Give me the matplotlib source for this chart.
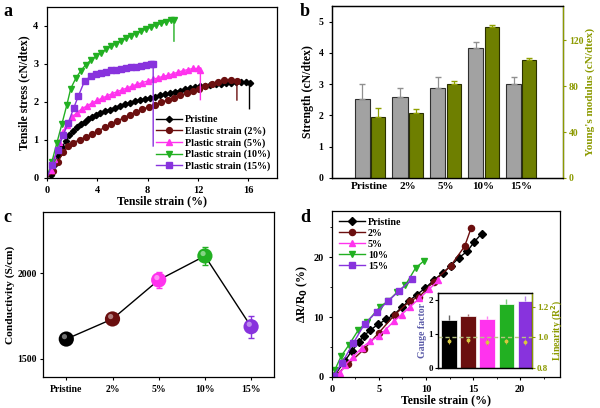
import numpy as np
import matplotlib
matplotlib.use("Agg")
import matplotlib.pyplot as plt

plt.rcParams['font.family'] = ['Liberation Serif', 'DejaVu Serif']
plt.rcParams['font.weight'] = 'bold'
plt.rcParams['axes.labelweight'] = 'bold'
plt.rcParams['axes.linewidth'] = 0.9
plt.rcParams['xtick.major.size'] = 2.5
plt.rcParams['ytick.major.size'] = 2.5
plt.rcParams['xtick.minor.size'] = 1.5
plt.rcParams['ytick.minor.size'] = 1.5

# ---- panel a: stress-strain curves ----
strain_pristine = [0, 0.3, 0.6, 0.9, 1.2, 1.5, 1.8, 2.1, 2.4, 2.7, 3.0, 3.3, 3.6, 3.9, 4.2, 4.6,
                   5.0, 5.4, 5.8, 6.2, 6.6, 7.0, 7.4, 7.8, 8.2, 8.6, 9.0, 9.4, 9.8, 10.2, 10.6,
                   11.0, 11.4, 11.8, 12.2, 12.6, 13.0, 13.4, 13.8, 14.2, 14.6, 15.0, 15.4, 15.8, 16.1, 16.1]
stress_pristine = [0, 0.08, 0.35, 0.6, 0.8, 0.97, 1.12, 1.24, 1.33, 1.41, 1.48, 1.54, 1.6, 1.65, 1.7, 1.75,
                   1.8, 1.85, 1.9, 1.94, 1.98, 2.02, 2.05, 2.08, 2.11, 2.14, 2.17, 2.2, 2.24, 2.27, 2.3,
                   2.33, 2.36, 2.38, 2.41, 2.43, 2.45, 2.47, 2.48, 2.5, 2.51, 2.52, 2.52, 2.52, 2.5, 1.82]
strain_2 = [0, 0.5, 0.9, 1.3, 1.7, 2.1, 2.6, 3.1, 3.6, 4.1, 4.6, 5.1, 5.6, 6.1, 6.6, 7.1, 7.6, 8.1,
            8.6, 9.1, 9.6, 10.1, 10.6, 11.1, 11.6, 12.1, 12.6, 13.1, 13.6, 14.1, 14.6, 15.1, 15.1]
stress_2 = [0, 0.17, 0.43, 0.67, 0.83, 0.93, 1.0, 1.08, 1.16, 1.24, 1.33, 1.41, 1.5, 1.58, 1.66, 1.74,
            1.81, 1.87, 1.93, 1.99, 2.05, 2.11, 2.17, 2.23, 2.29, 2.35, 2.41, 2.47, 2.53, 2.57, 2.58,
            2.55, 2.05]
strain_5 = [0, 0.3, 0.6, 1.0, 1.3, 1.6, 2.0, 2.4, 2.8, 3.2, 3.6, 4.0, 4.4, 4.8, 5.2, 5.6, 6.0, 6.4,
            6.8, 7.2, 7.6, 8.0, 8.4, 8.8, 9.2, 9.6, 10.0, 10.4, 10.8, 11.2, 11.6, 12.0, 12.2, 12.2]
stress_5 = [0, 0.2, 0.5, 0.95, 1.2, 1.4, 1.6, 1.72, 1.82, 1.9, 1.97, 2.04, 2.1, 2.16, 2.22, 2.27, 2.32,
            2.37, 2.42, 2.47, 2.51, 2.55, 2.59, 2.63, 2.67, 2.7, 2.74, 2.78, 2.82, 2.85, 2.88, 2.88,
            2.85, 2.06]
strain_10 = [0, 0.4, 0.8, 1.2, 1.6, 1.9, 2.3, 2.7, 3.1, 3.5, 3.9, 4.3, 4.7, 5.1, 5.5, 5.9, 6.3, 6.7,
             7.1, 7.5, 7.9, 8.3, 8.7, 9.1, 9.5, 9.9, 10.1, 10.1]
stress_10 = [0, 0.42, 0.92, 1.42, 1.93, 2.35, 2.62, 2.82, 2.98, 3.1, 3.2, 3.3, 3.38, 3.46, 3.53, 3.6,
             3.67, 3.74, 3.8, 3.86, 3.92, 3.97, 4.02, 4.07, 4.11, 4.15, 4.15, 3.6]
strain_15 = [0, 0.4, 0.85, 1.3, 1.7, 2.15, 2.5, 3.0, 3.5, 3.9, 4.3, 4.7, 5.1, 5.5, 5.9, 6.3, 6.7, 7.1,
             7.5, 7.9, 8.3, 8.45, 8.45]
stress_15 = [0, 0.33, 0.73, 1.12, 1.45, 1.85, 2.15, 2.55, 2.68, 2.73, 2.77, 2.8, 2.83, 2.85, 2.87,
             2.89, 2.91, 2.93, 2.95, 2.97, 2.99, 3.0, 0.84]

# ---- panel b: strength and modulus ----
samples = ['Pristine', '2%', '5%', '10%', '15%']
strength = [2.52, 2.58, 2.88, 4.15, 3.0]
strength_err = [0.5, 0.3, 0.35, 0.2, 0.22]
modulus = [53, 56.5, 82, 131.5, 103]
modulus_err = [8, 4, 3, 2, 2]

# ---- panel c: conductivity ----
conductivity = [1616, 1733, 1960, 2100, 1688]
conductivity_err = [0, 15, 44, 55, 63]

# ---- panel d: resistance change ----
d_pristine_x = [0.35, 1.4, 2.1, 2.9, 3.4, 4.1, 4.9, 5.8, 6.6, 7.4, 8.2, 9.0, 9.9, 10.8, 11.8, 12.6,
                13.5, 14.4, 15.1, 15.9]
d_pristine_y = [0.4, 2.7, 4.3, 5.8, 6.9, 7.8, 8.8, 9.6, 10.4, 11.6, 12.7, 13.7, 14.8, 16.1, 17.4,
                18.5, 19.9, 21.0, 22.5, 23.9]
d_2_x = [0.35, 1.7, 3.4, 5.0, 6.7, 8.3, 9.3, 10.8, 12.6, 14.1, 14.8]
d_2_y = [0.2, 2.1, 4.6, 7.4, 10.4, 12.7, 13.4, 15.9, 18.5, 21.8, 24.9]
d_5_x = [0.9, 1.4, 2.3, 3.2, 4.1, 5.0, 5.7, 6.6, 7.4, 8.3, 9.3, 10.3, 11.3]
d_5_y = [0.6, 2.0, 3.4, 4.9, 6.0, 6.8, 7.9, 9.3, 10.4, 11.7, 13.1, 14.6, 16.1]
d_10_x = [0.3, 1.0, 1.8, 2.8, 3.7, 5.1, 6.0, 6.9, 7.8, 8.9, 9.8]
d_10_y = [1.1, 3.5, 5.3, 7.8, 9.1, 11.7, 12.7, 14.1, 15.3, 18.2, 19.4]
d_15_x = [0.2, 1.1, 2.3, 3.5, 4.8, 6.0, 7.1, 8.5]
d_15_y = [0.2, 2.4, 5.7, 8.9, 10.9, 12.7, 14.3, 16.3]

# inset
gauge = [1.4, 1.53, 1.43, 1.88, 1.95]
gauge_err = [0.15, 0.05, 0.1, 0.15, 0.15]
linearity = [0.975, 0.98, 0.97, 0.975, 0.97]
linearity_err = [0.02, 0.015, 0.02, 0.015, 0.02]

colors = ['black', '#6b0f0f', '#ff33ee', '#22b022', '#8833dd']
olive = '#8c9a00'

fig = plt.figure(figsize=(6, 4.08), dpi=100)

# ===== a =====
ax_a = fig.add_axes([0.078, 0.564, 0.384, 0.419])
curves = [(strain_pristine, stress_pristine, 'D', 'Pristine', 3.2),
          (strain_2, stress_2, 'o', 'Elastic strain (2%)', 4.2),
          (strain_5, stress_5, '^', 'Plastic strain (5%)', 4.2),
          (strain_10, stress_10, 'v', 'Plastic strain (10%)', 4.2),
          (strain_15, stress_15, 's', 'Plastic strain (15%)', 3.8)]
for (sx, sy, mk, lab, ms), c in zip(curves, colors):
    ax_a.plot(sx, sy, color=c, lw=1.0, marker=mk, ms=ms, markevery=slice(1, len(sx) - 1), label=lab)
ax_a.set_xlim(0, 18.3)
ax_a.set_ylim(0, 4.5)
ax_a.set_xticks([0, 4, 8, 12, 16])
ax_a.set_yticks([0, 1, 2, 3, 4])
ax_a.tick_params(labelsize=7.5)
ax_a.set_xlabel('Tensile strain (%)', fontsize=8.5, labelpad=0)
ax_a.set_ylabel('Tensile stress (cN/dtex)', fontsize=8.5, labelpad=2)
ax_a.legend(loc='lower right', bbox_to_anchor=(1.0, 0.0), frameon=False, fontsize=7.2,
            handlelength=2.6, labelspacing=0.2, handletextpad=0.3, borderaxespad=0.3)
fig.text(0.005, 0.96, 'a', fontsize=13, fontweight='bold')

# ===== b =====
ax_b = fig.add_axes([0.553, 0.564, 0.385, 0.421])
xb = np.arange(len(samples))
ax_b.bar(xb - 0.2, strength, width=0.4, color='#a2a2a2', edgecolor='#303030', lw=0.8,
         yerr=[np.zeros(5), strength_err], error_kw=dict(ecolor='#909090', capsize=2, elinewidth=0.9))
ax_b.set_ylim(0, 5.5)
ax_b.set_xlim(-1.0, 5.1)
ax_b.set_yticks([0, 1, 2, 3, 4, 5])
ax_b.set_xticks(xb)
ax_b.set_xticklabels(samples, fontsize=8)
ax_b.tick_params(axis='x', length=0, pad=3)
ax_b.tick_params(axis='y', labelsize=7)
ax_b.set_ylabel('Strength (cN/dtex)', fontsize=8.5, labelpad=3)
ax_b2 = ax_b.twinx()
ax_b2.bar(xb + 0.22, modulus, width=0.37, color='#6e7f00', edgecolor='#2a3000', lw=0.8,
          yerr=[np.zeros(5), modulus_err], error_kw=dict(ecolor='#8fa000', capsize=2, elinewidth=0.9))
ax_b2.set_ylim(0, 150)
ax_b2.set_yticks([0, 40, 80, 120])
ax_b2.tick_params(axis='y', labelsize=7, colors=olive, pad=2)
ax_b2.spines['right'].set_color(olive)
ax_b2.set_ylabel("Young's modulus (cN/dtex)", fontsize=8, color=olive, labelpad=1)
fig.text(0.5, 0.96, 'b', fontsize=13, fontweight='bold')

# ===== c =====
ax_c = fig.add_axes([0.072, 0.076, 0.385, 0.404])
xc = np.arange(len(samples))
ax_c.plot(xc, conductivity, color='black', lw=1.0, zorder=1)
for i in range(len(samples)):
    ax_c.errorbar(xc[i], conductivity[i], yerr=conductivity_err[i], fmt='none',
                  ecolor=colors[i], capsize=2, elinewidth=1.0, zorder=2)
ax_c.scatter(xc, conductivity, s=120, c=colors, edgecolors='none', zorder=3)
ax_c.scatter(xc - 0.04, np.array(conductivity) + 14, s=14, c='white', alpha=0.45,
             edgecolors='none', zorder=4)
ax_c.set_xlim(-0.5, 4.5)
ax_c.set_ylim(1395, 2355)
ax_c.set_yticks([1500, 2000])
ax_c.set_xticks(xc)
ax_c.set_xticklabels(samples, fontsize=7)
ax_c.tick_params(axis='y', labelsize=7, pad=2)
ax_c.set_ylabel('Conductivity (S/cm)', fontsize=8.2, labelpad=2)
fig.text(0.005, 0.455, 'c', fontsize=13, fontweight='bold')

# ===== d =====
ax_d = fig.add_axes([0.553, 0.076, 0.38, 0.407])
d_curves = [(d_pristine_x, d_pristine_y, 'D', 'Pristine', 3.6),
            (d_2_x, d_2_y, 'o', '2%', 4.4),
            (d_5_x, d_5_y, '^', '5%', 4.4),
            (d_10_x, d_10_y, 'v', '10%', 4.4),
            (d_15_x, d_15_y, 's', '15%', 4.2)]
for (dx, dy, mk, lab, ms), c in zip(d_curves, colors):
    ax_d.plot(dx, dy, color=c, lw=1.0, marker=mk, ms=ms, label=lab)
ax_d.set_xlim(0, 24.2)
ax_d.set_ylim(0, 27.7)
ax_d.set_xticks([0, 5, 10, 15, 20])
ax_d.set_xticks(np.arange(0, 24, 2.5), minor=True)
ax_d.set_yticks([0, 10, 20])
ax_d.set_yticks([5, 15, 25], minor=True)
ax_d.tick_params(labelsize=7.5)
ax_d.set_xlabel('Tensile strain (%)', fontsize=8.5, labelpad=0)
ax_d.set_ylabel('ΔR/R$_0$ (%)', fontsize=8.5, labelpad=2)
ax_d.legend(loc='upper left', frameon=False, fontsize=7.2, handlelength=2.6,
            labelspacing=0.2, handletextpad=0.3, borderaxespad=0.3)
fig.text(0.5, 0.455, 'd', fontsize=13, fontweight='bold')

# inset
ax_in = fig.add_axes([0.73, 0.098, 0.157, 0.184])
xi = np.arange(len(gauge))
for i in range(len(gauge)):
    ax_in.bar(xi[i], gauge[i], width=0.8, color=colors[i], edgecolor='white', lw=0.5,
              yerr=[[0], [gauge_err[i]]],
              error_kw=dict(ecolor=colors[i], alpha=0.6, capsize=0, elinewidth=1.0))
ax_in.set_xlim(-0.58, 4.37)
ax_in.set_ylim(0, 2.2)
ax_in.set_xticks([])
ax_in.set_yticks([0, 1, 2])
ax_in.tick_params(labelsize=6.5, pad=1)
ax_in.set_ylabel('Gauge factor', fontsize=7, color='#5a5aa8', labelpad=1)
ax_in2 = ax_in.twinx()
ax_in2.axhline(1.0, color='#b8c480', lw=1.0, ls=(0, (3, 2)))
ax_in2.errorbar(xi, linearity, yerr=linearity_err, fmt='o', ms=1.8, color='#d8c840',
                ecolor='#c8a040', elinewidth=0.7, capsize=0)
ax_in2.set_ylim(0.8, 1.29)
ax_in2.set_yticks([0.8, 1.0, 1.2])
ax_in2.set_yticklabels(['0.8', '1.0', '1.2'])
ax_in2.tick_params(axis='y', labelsize=6.5, colors=olive, pad=1)
ax_in2.spines['right'].set_color(olive)
ax_in2.set_ylabel('Linearity (R$^2$)', fontsize=7, color=olive, labelpad=1)

fig.savefig('out.png', dpi=100)
